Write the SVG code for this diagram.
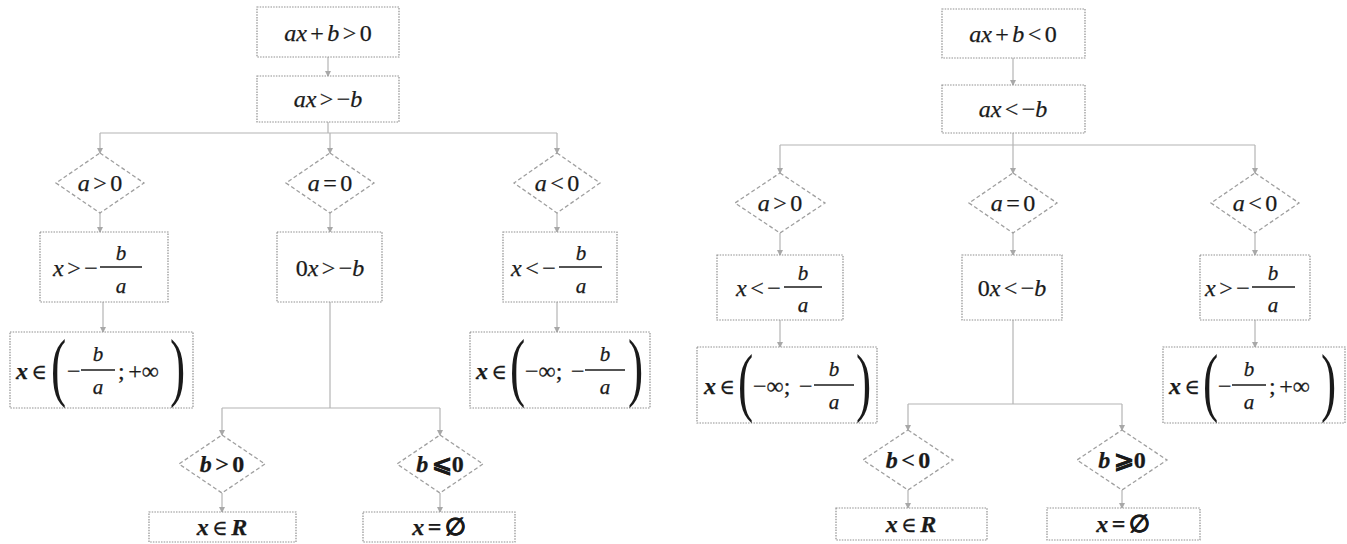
<svg xmlns="http://www.w3.org/2000/svg" width="1347" height="544" viewBox="0 0 1347 544">
<defs>
<marker id="arr" markerWidth="6" markerHeight="6" refX="5" refY="3" orient="auto" markerUnits="userSpaceOnUse">
<path d="M0,0 L6,3 L0,6 Z" fill="#a8a8a8"/>
</marker>
<style>
.box{fill:#fff;stroke:#8f8f8f;stroke-width:1.2;stroke-dasharray:1.5 1.2}
.dia{fill:#fff;stroke:#a0a0a0;stroke-width:1.3;stroke-dasharray:4 2.5}
.con{fill:none;stroke:#b4b4b4;stroke-width:1.2}
.arw{marker-end:url(#arr)}
text{font-family:"Liberation Serif","Times New Roman","DejaVu Serif",serif;font-size:24px;fill:#1a1a1a;stroke:#1a1a1a;stroke-width:0.25;word-spacing:-2.5px}
.m{text-anchor:middle}
.i{font-style:italic}
.b{font-weight:bold}
.e{font-weight:normal;font-size:21px}
.f{font-size:21px}
.par{font-size:76px;font-weight:normal;stroke:none}
.fl{stroke:#1a1a1a;stroke-width:1.4}
</style>
</defs>
<rect width="1347" height="544" fill="#fff"/>

<g id="connectors">
<line class="con arw" x1="328" y1="57" x2="328" y2="76"/>
<line class="con" x1="328" y1="122" x2="328" y2="133"/>
<line class="con" x1="100" y1="133" x2="557" y2="133"/>
<line class="con arw" x1="100" y1="133" x2="100" y2="153"/>
<line class="con arw" x1="330" y1="133" x2="330" y2="153"/>
<line class="con arw" x1="557" y1="133" x2="557" y2="153"/>
<line class="con arw" x1="100" y1="213" x2="100" y2="232"/>
<line class="con arw" x1="330" y1="213" x2="330" y2="232"/>
<line class="con arw" x1="557" y1="213" x2="557" y2="232"/>
<line class="con arw" x1="103" y1="302" x2="103" y2="332"/>
<line class="con arw" x1="557" y1="302" x2="557" y2="332"/>
<line class="con" x1="330" y1="302" x2="330" y2="408"/>
<line class="con" x1="222" y1="408" x2="440" y2="408"/>
<line class="con arw" x1="222" y1="408" x2="222" y2="435"/>
<line class="con arw" x1="440" y1="408" x2="440" y2="435"/>
<line class="con arw" x1="222" y1="493" x2="222" y2="512"/>
<line class="con arw" x1="440" y1="493" x2="440" y2="512"/>
<line class="con arw" x1="1013" y1="58" x2="1013" y2="85"/>
<line class="con" x1="1013" y1="133" x2="1013" y2="145"/>
<line class="con" x1="780" y1="145" x2="1255" y2="145"/>
<line class="con arw" x1="780" y1="145" x2="780" y2="173"/>
<line class="con arw" x1="1013" y1="145" x2="1013" y2="173"/>
<line class="con arw" x1="1255" y1="145" x2="1255" y2="173"/>
<line class="con arw" x1="780" y1="233" x2="780" y2="255"/>
<line class="con arw" x1="1013" y1="233" x2="1013" y2="255"/>
<line class="con arw" x1="1255" y1="233" x2="1255" y2="255"/>
<line class="con arw" x1="780" y1="320" x2="780" y2="347"/>
<line class="con arw" x1="1255" y1="320" x2="1255" y2="347"/>
<line class="con" x1="1013" y1="320" x2="1013" y2="404"/>
<line class="con" x1="908" y1="404" x2="1122" y2="404"/>
<line class="con arw" x1="908" y1="404" x2="908" y2="430"/>
<line class="con arw" x1="1122" y1="404" x2="1122" y2="430"/>
<line class="con arw" x1="908" y1="490" x2="908" y2="508"/>
<line class="con arw" x1="1122" y1="490" x2="1122" y2="508"/>
</g>

<!-- ===== LEFT TREE ===== -->
<g id="L1"><rect class="box" x="257" y="7" width="142" height="50"/>
<text class="m" x="328" y="41"><tspan class="i">ax</tspan> + <tspan class="i">b</tspan> &gt; 0</text></g>
<g id="L2"><rect class="box" x="257" y="76" width="142" height="46"/>
<text class="m" x="328" y="107"><tspan class="i">ax</tspan> &gt; −<tspan class="i">b</tspan></text></g>

<g id="LD1"><polygon class="dia" points="100,153 144,183 100,213 56,183"/>
<text class="m" x="100" y="191"><tspan class="i">a</tspan> &gt; 0</text></g>
<g id="LD2"><polygon class="dia" points="330,153 374,183 330,213 286,183"/>
<text class="m" x="330" y="191"><tspan class="i">a</tspan> = 0</text></g>
<g id="LD3"><polygon class="dia" points="557,153 600,183 557,213 514,183"/>
<text class="m" x="557" y="191"><tspan class="i">a</tspan> &lt; 0</text></g>

<g id="LB1"><rect class="box" x="40" y="232" width="128" height="70"/>
<text x="53" y="276"><tspan class="i">x</tspan> &gt; −</text>
<text class="m i f" x="121" y="260">b</text>
<line class="fl" x1="100" y1="267" x2="142" y2="267"/>
<text class="m i f" x="121" y="293">a</text></g>
<g id="LB2"><rect class="box" x="277" y="232" width="105" height="70"/>
<text class="m" x="330" y="276">0<tspan class="i">x</tspan> &gt; −<tspan class="i">b</tspan></text></g>
<g id="LB3"><rect class="box" x="503" y="232" width="114" height="70"/>
<text x="511" y="276"><tspan class="i">x</tspan> &lt; −</text>
<text class="m i f" x="581" y="260">b</text>
<line class="fl" x1="559" y1="267" x2="602" y2="267"/>
<text class="m i f" x="581" y="293">a</text></g>

<g id="LI1"><rect class="box" x="10" y="332" width="183" height="76"/>
<text class="b" x="16" y="379"><tspan class="i">x</tspan> <tspan class="e">∈</tspan></text>
<text class="par" transform="translate(51,392) scale(0.6,1)">(</text>
<text x="67" y="379">−</text>
<text class="m i f" x="98" y="361">b</text>
<line class="fl" x1="81" y1="370" x2="115" y2="370"/>
<text class="m i f" x="98" y="394">a</text>
<text x="118" y="379">; +∞</text>
<text class="par" transform="translate(170,392) scale(0.6,1)">)</text></g>
<g id="LI2"><rect class="box" x="470" y="332" width="180" height="76"/>
<text class="b" x="476" y="379"><tspan class="i">x</tspan> <tspan class="e">∈</tspan></text>
<text class="par" transform="translate(510,392) scale(0.6,1)">(</text>
<text x="525" y="379">−∞;</text>
<text x="571" y="379">−</text>
<text class="m i f" x="605" y="361">b</text>
<line class="fl" x1="585" y1="370" x2="625" y2="370"/>
<text class="m i f" x="605" y="394">a</text>
<text class="par" transform="translate(628,392) scale(0.6,1)">)</text></g>

<g id="LD4"><polygon class="dia" points="222,435 265,464 222,493 179,464"/>
<text class="m b" x="222" y="472"><tspan class="i">b</tspan> &gt; 0</text></g>
<g id="LD5"><polygon class="dia" points="440,435 483,464 440,493 397,464"/>
<text class="m b" x="440" y="472"><tspan class="i">b</tspan> ⩽0</text></g>

<g id="LB4"><rect class="box" x="149" y="512" width="147" height="30"/>
<text class="m b" x="222" y="535"><tspan class="i">x</tspan> <tspan class="e">∈</tspan> <tspan class="i">R</tspan></text></g>
<g id="LB5"><rect class="box" x="363" y="512" width="152" height="30"/>
<text class="m b" x="439" y="535"><tspan class="i">x</tspan> = ∅</text></g>

<!-- ===== RIGHT TREE ===== -->
<g id="R1"><rect class="box" x="942" y="9" width="143" height="49"/>
<text class="m" x="1013" y="42"><tspan class="i">ax</tspan> + <tspan class="i">b</tspan> &lt; 0</text></g>
<g id="R2"><rect class="box" x="942" y="85" width="143" height="48"/>
<text class="m" x="1013" y="117"><tspan class="i">ax</tspan> &lt; −<tspan class="i">b</tspan></text></g>

<g id="RD1"><polygon class="dia" points="780,173 825,203 780,233 735,203"/>
<text class="m" x="780" y="211"><tspan class="i">a</tspan> &gt; 0</text></g>
<g id="RD2"><polygon class="dia" points="1013,173 1057,203 1013,233 969,203"/>
<text class="m" x="1013" y="211"><tspan class="i">a</tspan> = 0</text></g>
<g id="RD3"><polygon class="dia" points="1255,173 1299,203 1255,233 1211,203"/>
<text class="m" x="1255" y="211"><tspan class="i">a</tspan> &lt; 0</text></g>

<g id="RB1"><rect class="box" x="717" y="255" width="126" height="65"/>
<text x="736" y="296"><tspan class="i">x</tspan> &lt; −</text>
<text class="m i f" x="803" y="280">b</text>
<line class="fl" x1="784" y1="287" x2="822" y2="287"/>
<text class="m i f" x="803" y="312">a</text></g>
<g id="RB2"><rect class="box" x="962" y="255" width="100" height="65"/>
<text class="m" x="1012" y="296">0<tspan class="i">x</tspan> &lt; −<tspan class="i">b</tspan></text></g>
<g id="RB3"><rect class="box" x="1200" y="255" width="110" height="65"/>
<text x="1205" y="296"><tspan class="i">x</tspan> &gt; −</text>
<text class="m i f" x="1273" y="280">b</text>
<line class="fl" x1="1252" y1="287" x2="1295" y2="287"/>
<text class="m i f" x="1273" y="312">a</text></g>

<g id="RI1"><rect class="box" x="697" y="347" width="180" height="76"/>
<text class="b" x="704" y="394"><tspan class="i">x</tspan> <tspan class="e">∈</tspan></text>
<text class="par" transform="translate(738,407) scale(0.6,1)">(</text>
<text x="753" y="394">−∞;</text>
<text x="799" y="394">−</text>
<text class="m i f" x="834" y="376">b</text>
<line class="fl" x1="814" y1="385" x2="854" y2="385"/>
<text class="m i f" x="834" y="409">a</text>
<text class="par" transform="translate(856,407) scale(0.6,1)">)</text></g>
<g id="RI2"><rect class="box" x="1163" y="347" width="182" height="76"/>
<text class="b" x="1169" y="394"><tspan class="i">x</tspan> <tspan class="e">∈</tspan></text>
<text class="par" transform="translate(1203,407) scale(0.6,1)">(</text>
<text x="1218" y="394">−</text>
<text class="m i f" x="1249" y="376">b</text>
<line class="fl" x1="1232" y1="385" x2="1266" y2="385"/>
<text class="m i f" x="1249" y="409">a</text>
<text x="1269" y="394">; +∞</text>
<text class="par" transform="translate(1321,407) scale(0.6,1)">)</text></g>

<g id="RD4"><polygon class="dia" points="908,430 953,460 908,490 863,460"/>
<text class="m b" x="908" y="468"><tspan class="i">b</tspan> &lt; 0</text></g>
<g id="RD5"><polygon class="dia" points="1122,430 1167,460 1122,490 1077,460"/>
<text class="m b" x="1122" y="468"><tspan class="i">b</tspan> ⩾0</text></g>

<g id="RB4"><rect class="box" x="836" y="508" width="151" height="32"/>
<text class="m b" x="911" y="532"><tspan class="i">x</tspan> <tspan class="e">∈</tspan> <tspan class="i">R</tspan></text></g>
<g id="RB5"><rect class="box" x="1047" y="508" width="153" height="32"/>
<text class="m b" x="1123" y="532"><tspan class="i">x</tspan> = ∅</text></g>
</svg>
